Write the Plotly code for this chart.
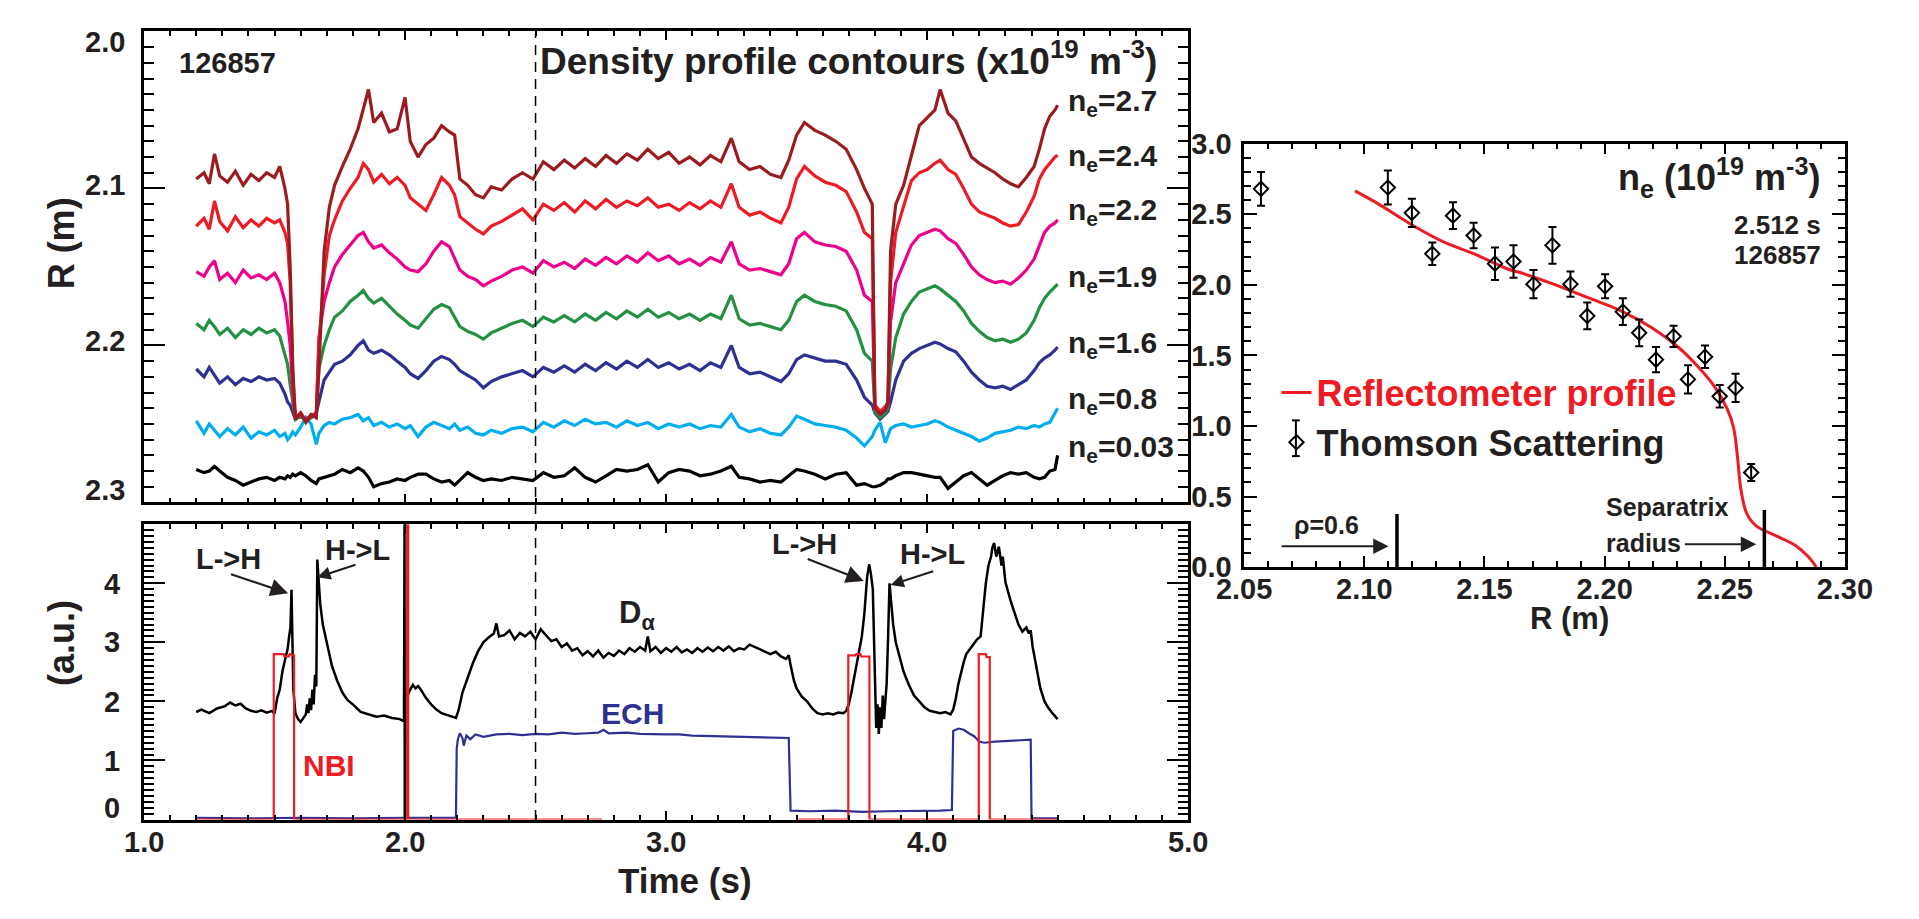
import plotly.graph_objects as go

# ---------------- data: density contour radii vs time (top panel) ----------------
T_TOP = [1.20, 1.23, 1.25, 1.27, 1.29, 1.32, 1.35, 1.38, 1.41, 1.44,
         1.47, 1.50, 1.52, 1.54, 1.55, 1.56, 1.57, 1.58, 1.60, 1.62,
         1.64, 1.66, 1.67, 1.69, 1.71, 1.73, 1.76, 1.79, 1.82, 1.84,
         1.86, 1.88, 1.91, 1.94, 1.97, 2.00, 2.02, 2.05, 2.08, 2.11,
         2.14, 2.17, 2.19, 2.21, 2.24, 2.27, 2.30, 2.33, 2.37, 2.41,
         2.45, 2.49, 2.53, 2.57, 2.61, 2.65, 2.69, 2.73, 2.77, 2.81,
         2.85, 2.89, 2.93, 2.97, 3.01, 3.05, 3.09, 3.13, 3.17, 3.21,
         3.25, 3.28, 3.32, 3.36, 3.40, 3.44, 3.47, 3.50, 3.53, 3.57,
         3.61, 3.65, 3.69, 3.73, 3.76, 3.79, 3.80, 3.82, 3.84, 3.85,
         3.86, 3.88, 3.91, 3.94, 3.97, 4.00, 4.03, 4.05, 4.08, 4.11,
         4.14, 4.17, 4.20, 4.23, 4.26, 4.29, 4.32, 4.35, 4.38, 4.41,
         4.43, 4.45, 4.47, 4.49, 4.50]

R_NE27 = [2.094, 2.090, 2.097, 2.078, 2.092, 2.096, 2.089, 2.098, 2.091, 2.095,
          2.090, 2.093, 2.086, 2.100, 2.110, 2.150, 2.215, 2.247, 2.243, 2.249,
          2.244, 2.246, 2.215, 2.140, 2.112, 2.098, 2.086, 2.075, 2.062, 2.050,
          2.037, 2.058, 2.052, 2.064, 2.062, 2.042, 2.070, 2.080, 2.072, 2.068,
          2.060, 2.064, 2.066, 2.094, 2.098, 2.104, 2.106, 2.099, 2.101, 2.094,
          2.090, 2.094, 2.083, 2.088, 2.082, 2.087, 2.081, 2.086, 2.079, 2.084,
          2.078, 2.082, 2.075, 2.081, 2.077, 2.084, 2.080, 2.085, 2.079, 2.083,
          2.068, 2.083, 2.088, 2.086, 2.091, 2.093, 2.082, 2.066, 2.058, 2.063,
          2.066, 2.070, 2.075, 2.088, 2.100, 2.110, 2.240, 2.244, 2.241, 2.236,
          2.140, 2.110, 2.098, 2.079, 2.060, 2.055, 2.050, 2.037, 2.052, 2.057,
          2.068, 2.080, 2.084, 2.087, 2.090, 2.094, 2.097, 2.099, 2.093, 2.086,
          2.075, 2.062, 2.054, 2.050, 2.047]

R_NE24 = [2.124, 2.119, 2.126, 2.108, 2.121, 2.127, 2.118, 2.125, 2.120, 2.124,
          2.119, 2.122, 2.120, 2.128, 2.135, 2.160, 2.220, 2.246, 2.243, 2.248,
          2.245, 2.244, 2.200, 2.155, 2.130, 2.120, 2.108, 2.100, 2.093, 2.084,
          2.088, 2.096, 2.091, 2.097, 2.093, 2.098, 2.106, 2.110, 2.114, 2.104,
          2.093, 2.098, 2.104, 2.118, 2.122, 2.126, 2.129, 2.124, 2.121, 2.117,
          2.113, 2.120, 2.110, 2.114, 2.109, 2.115, 2.108, 2.113, 2.107, 2.112,
          2.108, 2.111, 2.106, 2.112, 2.110, 2.114, 2.109, 2.113, 2.108, 2.112,
          2.097, 2.112, 2.117, 2.115, 2.119, 2.122, 2.112, 2.094, 2.086, 2.092,
          2.096, 2.098, 2.102, 2.115, 2.128, 2.132, 2.238, 2.242, 2.239, 2.236,
          2.160, 2.128, 2.112, 2.095, 2.090, 2.088, 2.084, 2.082, 2.088, 2.091,
          2.100, 2.110, 2.115, 2.117, 2.119, 2.122, 2.124, 2.123, 2.115, 2.105,
          2.094, 2.088, 2.084, 2.080, 2.079]

R_NE22 = [2.153, 2.156, 2.150, 2.146, 2.158, 2.154, 2.160, 2.152, 2.157, 2.155,
          2.158, 2.154, 2.160, 2.172, 2.185, 2.200, 2.230, 2.246, 2.244, 2.247,
          2.245, 2.243, 2.195, 2.172, 2.160, 2.150, 2.142, 2.136, 2.130, 2.128,
          2.134, 2.138, 2.136, 2.141, 2.145, 2.150, 2.152, 2.153, 2.148, 2.140,
          2.134, 2.137, 2.145, 2.152, 2.156, 2.158, 2.162, 2.159, 2.156, 2.152,
          2.150, 2.154, 2.146, 2.150, 2.147, 2.151, 2.145, 2.149, 2.144, 2.148,
          2.143, 2.147, 2.141, 2.146, 2.143, 2.148, 2.145, 2.149, 2.144, 2.147,
          2.134, 2.148, 2.152, 2.151, 2.153, 2.155, 2.148, 2.132, 2.128, 2.134,
          2.136, 2.137, 2.140, 2.152, 2.168, 2.172, 2.240, 2.244, 2.241, 2.238,
          2.185, 2.160, 2.148, 2.136, 2.130, 2.128, 2.126, 2.127, 2.132, 2.135,
          2.142, 2.150, 2.155, 2.158, 2.160, 2.159, 2.161, 2.157, 2.152, 2.145,
          2.136, 2.128, 2.124, 2.122, 2.120]

R_NE19 = [2.186, 2.190, 2.184, 2.188, 2.193, 2.189, 2.195, 2.190, 2.193, 2.189,
          2.192, 2.190, 2.194, 2.205, 2.212, 2.225, 2.238, 2.247, 2.245, 2.248,
          2.246, 2.244, 2.215, 2.200, 2.190, 2.182, 2.178, 2.172, 2.168, 2.165,
          2.170, 2.173, 2.170, 2.175, 2.180, 2.184, 2.187, 2.189, 2.183, 2.177,
          2.174, 2.176, 2.182, 2.188, 2.191, 2.193, 2.196, 2.192, 2.189, 2.186,
          2.184, 2.188, 2.182, 2.185, 2.181, 2.185, 2.180, 2.184, 2.179, 2.183,
          2.178, 2.182, 2.177, 2.182, 2.179, 2.183, 2.180, 2.184, 2.180, 2.183,
          2.168, 2.183, 2.187, 2.186, 2.188, 2.190, 2.184, 2.172, 2.168, 2.172,
          2.174, 2.175, 2.178, 2.190, 2.205, 2.210, 2.242, 2.246, 2.243, 2.240,
          2.215, 2.195, 2.180, 2.172, 2.166, 2.164, 2.162, 2.164, 2.168, 2.172,
          2.178, 2.186, 2.191, 2.195, 2.197, 2.196, 2.198, 2.196, 2.192, 2.184,
          2.176, 2.170, 2.166, 2.163, 2.161]

R_NE16 = [2.215, 2.220, 2.214, 2.219, 2.224, 2.220, 2.225, 2.221, 2.223, 2.220,
          2.222, 2.221, 2.224, 2.231, 2.236, 2.238, 2.242, 2.247, 2.244, 2.248,
          2.246, 2.243, 2.236, 2.222, 2.217, 2.212, 2.210, 2.206, 2.200, 2.197,
          2.203, 2.205, 2.203, 2.206, 2.210, 2.214, 2.218, 2.221, 2.216, 2.210,
          2.207, 2.209, 2.212, 2.216, 2.219, 2.222, 2.227, 2.223, 2.220, 2.218,
          2.216, 2.220, 2.214, 2.217, 2.213, 2.217, 2.212, 2.216, 2.211, 2.215,
          2.210, 2.214, 2.209, 2.214, 2.211, 2.215, 2.212, 2.216, 2.211, 2.214,
          2.200, 2.214, 2.218, 2.217, 2.220, 2.223, 2.218, 2.209, 2.206, 2.208,
          2.210, 2.210, 2.212, 2.222, 2.233, 2.238, 2.243, 2.247, 2.244, 2.242,
          2.236, 2.222, 2.210, 2.205, 2.202, 2.200, 2.198, 2.199, 2.202, 2.204,
          2.210, 2.217, 2.222, 2.226, 2.227, 2.226, 2.228, 2.225, 2.222, 2.216,
          2.211, 2.208, 2.206, 2.203, 2.201]

R_NE08 = [2.248, 2.256, 2.250, 2.254, 2.258, 2.253, 2.257, 2.252, 2.259, 2.255,
          2.257, 2.254, 2.258, 2.256, 2.260, 2.258, 2.255, 2.257, 2.252, 2.246,
          2.250, 2.263, 2.256, 2.251, 2.249, 2.250, 2.247, 2.246, 2.244, 2.248,
          2.246, 2.251, 2.249, 2.252, 2.250, 2.253, 2.251, 2.258, 2.252, 2.249,
          2.251, 2.253, 2.250, 2.254, 2.252, 2.256, 2.257, 2.254, 2.256, 2.253,
          2.252, 2.255, 2.249, 2.252, 2.248, 2.251, 2.247, 2.250, 2.249, 2.252,
          2.248, 2.251, 2.249, 2.253, 2.250, 2.252, 2.250, 2.253, 2.251, 2.252,
          2.244, 2.252, 2.255, 2.253, 2.256, 2.257, 2.252, 2.245, 2.247, 2.250,
          2.251, 2.252, 2.254, 2.259, 2.264, 2.258, 2.254, 2.249, 2.262, 2.257,
          2.253, 2.251, 2.250, 2.252, 2.251, 2.250, 2.248, 2.249, 2.252, 2.254,
          2.256, 2.258, 2.261, 2.259, 2.256, 2.255, 2.254, 2.252, 2.253, 2.251,
          2.252, 2.250, 2.249, 2.243, 2.240]

R_NE003 = [2.279, 2.281, 2.280, 2.277, 2.280, 2.284, 2.286, 2.289, 2.287, 2.285,
           2.284, 2.286, 2.284, 2.285, 2.283, 2.284, 2.282, 2.283, 2.281, 2.283,
           2.286, 2.288, 2.285, 2.284, 2.283, 2.282, 2.279, 2.281, 2.278, 2.280,
           2.284, 2.290, 2.288, 2.287, 2.285, 2.286, 2.284, 2.282, 2.282, 2.285,
           2.287, 2.286, 2.289, 2.286, 2.281, 2.284, 2.286, 2.285, 2.286, 2.284,
           2.285, 2.286, 2.281, 2.284, 2.283, 2.278, 2.284, 2.287, 2.283, 2.279,
           2.280, 2.279, 2.276, 2.287, 2.281, 2.279, 2.280, 2.283, 2.282, 2.280,
           2.277, 2.284, 2.285, 2.287, 2.286, 2.287, 2.283, 2.279, 2.280, 2.282,
           2.285, 2.282, 2.281, 2.289, 2.288, 2.290, 2.290, 2.289, 2.287, 2.285,
           2.285, 2.283, 2.281, 2.281, 2.282, 2.283, 2.284, 2.284, 2.291, 2.287,
           2.283, 2.281, 2.285, 2.289, 2.286, 2.283, 2.281, 2.282, 2.281, 2.284,
           2.285, 2.284, 2.280, 2.279, 2.270]

CONTOUR_LABELS = ["2.7", "2.4", "2.2", "1.9", "1.6", "0.8", "0.03"]
CONTOUR_LABEL_R = [2.0455, 2.0803, 2.1150, 2.1572, 2.1992, 2.2348, 2.2656]

R_TICKS = [2.0, 2.1, 2.2, 2.3]
R_TICK_TEXT = ["2.0", "2.1", "2.2", "2.3"]
AU_TICKS = [0, 1, 2, 3, 4]
TIME_TICKS = [1, 2, 3, 4, 5]
TIME_TICK_TEXT = ["1.0", "2.0", "3.0", "4.0", "5.0"]

# ---------------- data: time traces (bottom panel) ----------------
DALPHA = [(1.20, 1.82), (1.22, 1.86), (1.25, 1.80), (1.28, 1.88), (1.31, 1.92), (1.33, 1.98),
          (1.35, 1.93), (1.37, 1.96), (1.39, 1.88), (1.41, 1.84), (1.43, 1.82), (1.45, 1.85),
          (1.47, 1.81), (1.49, 1.84), (1.50, 1.79), (1.51, 2.05), (1.52, 2.20), (1.53, 2.50),
          (1.54, 2.70), (1.55, 2.88), (1.556, 3.10), (1.561, 3.25), (1.565, 3.89), (1.568, 3.00),
          (1.572, 2.20), (1.58, 1.80), (1.59, 1.70), (1.60, 1.65), (1.61, 1.72), (1.62, 1.78),
          (1.625, 1.95), (1.63, 1.80), (1.635, 2.05), (1.64, 1.85), (1.645, 2.20), (1.65, 1.95),
          (1.655, 2.45), (1.66, 2.25), (1.664, 4.40), (1.668, 4.10), (1.675, 3.65), (1.685, 3.30),
          (1.70, 3.00), (1.72, 2.60), (1.74, 2.35), (1.76, 2.15), (1.78, 2.02), (1.80, 1.95),
          (1.83, 1.82), (1.86, 1.78), (1.89, 1.74), (1.92, 1.76), (1.95, 1.72), (1.98, 1.70),
          (1.996, 1.66), (1.998, 5.0), (1.999, 0.0), (2.006, 2.10), (2.012, 2.12), (2.02, 2.20),
          (2.03, 2.28), (2.04, 2.22), (2.05, 2.26), (2.06, 2.20), (2.08, 2.06), (2.10, 1.95),
          (2.12, 1.86), (2.14, 1.80), (2.16, 1.77), (2.18, 1.74), (2.195, 1.72), (2.205, 1.85),
          (2.22, 2.15), (2.24, 2.40), (2.26, 2.65), (2.28, 2.85), (2.30, 3.00), (2.32, 3.08),
          (2.34, 3.15), (2.35, 3.32), (2.36, 3.10), (2.38, 3.12), (2.40, 3.20), (2.42, 3.05),
          (2.44, 3.16), (2.46, 3.10), (2.48, 3.18), (2.50, 3.05), (2.52, 3.22), (2.54, 3.12),
          (2.56, 3.02), (2.58, 3.05), (2.60, 2.92), (2.62, 2.98), (2.64, 2.86), (2.66, 2.90),
          (2.68, 2.78), (2.70, 2.85), (2.72, 2.76), (2.74, 2.86), (2.76, 2.74), (2.78, 2.82),
          (2.80, 2.77), (2.82, 2.86), (2.84, 2.80), (2.86, 2.90), (2.88, 2.84), (2.90, 2.92),
          (2.92, 2.86), (2.93, 3.10), (2.94, 2.85), (2.96, 2.92), (2.98, 2.82), (3.00, 2.90),
          (3.02, 2.84), (3.04, 2.92), (3.06, 2.83), (3.08, 2.88), (3.10, 2.82), (3.12, 2.90),
          (3.14, 2.84), (3.16, 2.91), (3.18, 2.85), (3.20, 2.92), (3.22, 2.86), (3.24, 2.93),
          (3.26, 2.85), (3.28, 2.90), (3.30, 2.88), (3.32, 2.96), (3.34, 2.92), (3.36, 2.87),
          (3.38, 2.84), (3.40, 2.80), (3.42, 2.84), (3.44, 2.76), (3.46, 2.72), (3.47, 2.78),
          (3.48, 2.55), (3.49, 2.35), (3.50, 2.22), (3.52, 2.08), (3.54, 2.00), (3.56, 1.88),
          (3.58, 1.80), (3.60, 1.78), (3.62, 1.80), (3.64, 1.78), (3.66, 1.81), (3.68, 1.80),
          (3.69, 1.84), (3.70, 1.95), (3.71, 2.15), (3.72, 2.40), (3.73, 2.60), (3.74, 2.85),
          (3.75, 3.10), (3.76, 3.50), (3.77, 4.10), (3.778, 4.32), (3.785, 4.15), (3.792, 3.90),
          (3.80, 2.60), (3.805, 1.55), (3.81, 1.95), (3.815, 1.45), (3.82, 1.90), (3.825, 1.55),
          (3.83, 2.10), (3.835, 1.70), (3.84, 2.00), (3.845, 2.30), (3.85, 3.00), (3.856, 4.00),
          (3.862, 3.70), (3.87, 3.30), (3.88, 3.00), (3.89, 2.82), (3.91, 2.50), (3.93, 2.28),
          (3.95, 2.10), (3.97, 2.00), (3.99, 1.90), (4.01, 1.84), (4.03, 1.82), (4.05, 1.80),
          (4.07, 1.82), (4.09, 1.78), (4.10, 1.86), (4.11, 2.05), (4.12, 2.30), (4.13, 2.50),
          (4.14, 2.66), (4.15, 2.80), (4.17, 2.93), (4.19, 3.04), (4.205, 3.10), (4.215, 3.60),
          (4.225, 4.00), (4.235, 4.30), (4.245, 4.45), (4.25, 4.60), (4.257, 4.68), (4.265, 4.45),
          (4.275, 4.62), (4.285, 4.30), (4.29, 4.45), (4.30, 4.02), (4.31, 3.85), (4.32, 3.70),
          (4.335, 3.50), (4.35, 3.30), (4.365, 3.18), (4.38, 3.25), (4.39, 3.15), (4.397, 3.20),
          (4.404, 2.93), (4.42, 2.55), (4.434, 2.22), (4.45, 2.00), (4.463, 1.90), (4.48, 1.80),
          (4.493, 1.73), (4.50, 1.70)]

NBI = [(1.20, 0), (1.497, 0), (1.497, 2.80), (1.535, 2.80), (1.538, 2.76), (1.555, 2.76),
       (1.558, 2.80), (1.575, 2.78), (1.575, 0), (2.008, 0), (2.008, 5.0), (2.012, 5.0),
       (2.012, 0), (2.755, 0), (None, None), (3.507, 0), (3.698, 0), (3.698, 2.78),
       (3.725, 2.78), (3.728, 2.80), (3.745, 2.80), (3.748, 2.76), (3.779, 2.76), (3.779, 0),
       (4.198, 0), (4.198, 2.80), (4.225, 2.80), (4.228, 2.75), (4.24, 2.75), (4.24, 0),
       (4.50, 0)]

ECH = [(1.20, 0.03), (1.40, 0.02), (1.60, 0.03), (1.80, 0.02), (2.00, 0.03), (2.195, 0.03),
       (2.198, 1.20), (2.202, 1.35), (2.21, 1.46), (2.22, 1.38), (2.225, 1.25), (2.235, 1.42),
       (2.25, 1.36), (2.27, 1.44), (2.30, 1.40), (2.35, 1.44), (2.40, 1.45), (2.45, 1.43),
       (2.50, 1.45), (2.55, 1.44), (2.60, 1.47), (2.65, 1.45), (2.70, 1.46), (2.74, 1.47),
       (2.76, 1.52), (2.78, 1.46), (2.85, 1.47), (2.90, 1.45), (3.00, 1.44), (3.05, 1.44),
       (3.10, 1.42), (3.20, 1.41), (3.30, 1.40), (3.40, 1.39), (3.47, 1.38), (3.477, 0.15),
       (3.55, 0.14), (3.65, 0.15), (3.75, 0.13), (3.85, 0.14), (3.95, 0.14), (4.05, 0.15),
       (4.095, 0.16), (4.10, 1.50), (4.12, 1.54), (4.14, 1.52), (4.16, 1.46), (4.18, 1.41),
       (4.20, 1.32), (4.22, 1.30), (4.26, 1.32), (4.30, 1.33), (4.35, 1.34), (4.397, 1.35),
       (4.40, 0.02), (4.50, 0.02)]

T_SNAPSHOT = 2.5

# ---------------- data: density profile (right panel) ----------------
TS_R = [2.057, 2.1098, 2.1198, 2.1283, 2.1369, 2.1455, 2.1544, 2.1621, 2.1704, 2.1783, 2.1858,
        2.1928, 2.2002, 2.2076, 2.2144, 2.2214, 2.2287, 2.2347, 2.2418, 2.2479, 2.2545, 2.2610]
TS_NE = [2.68, 2.69, 2.51, 2.22, 2.49, 2.35, 2.15, 2.165, 2.005, 2.28, 2.005,
         1.78, 1.99, 1.81, 1.66, 1.47, 1.635, 1.33, 1.49, 1.21, 1.27, 0.67]
TS_ERR = [0.12, 0.12, 0.10, 0.08, 0.095, 0.09, 0.115, 0.115, 0.10, 0.13, 0.09,
          0.095, 0.085, 0.095, 0.095, 0.09, 0.075, 0.10, 0.08, 0.08, 0.10, 0.06]

REF_R = [2.0961, 2.1055, 2.1190, 2.1325, 2.1460, 2.1594, 2.1661, 2.1796, 2.1931, 2.2066, 2.2200,
         2.2308, 2.2389, 2.2456, 2.2510, 2.2537, 2.2553, 2.2567, 2.2591, 2.2631, 2.2712, 2.2793,
         2.2847, 2.2881]
REF_NE = [2.666, 2.577, 2.433, 2.308, 2.217, 2.114, 2.080, 2.000, 1.909, 1.818, 1.693,
          1.556, 1.420, 1.283, 1.123, 0.986, 0.781, 0.554, 0.383, 0.292, 0.223, 0.155,
          0.075, 0.0]

RHO06_R, RHO06_TOP = 2.1136, 0.376
SEP_R, SEP_TOP = 2.2665, 0.405

# ---------------- styling ----------------
W, H = 1919, 919
FONT = "Liberation Sans, Arial, Helvetica, sans-serif"
TXT = "#231f20"
C_DRED, C_RED, C_MAG, C_GRN, C_BLU, C_CYN = "#9b1c20", "#ed1c24", "#ec008c", "#239043", "#2e3192", "#00aeef"


def fx(x):
    return x / W


def fy(y):
    return 1 - y / H


fig = go.Figure()

contours = [(R_NE003, "black"), (R_NE08, C_CYN), (R_NE16, C_BLU), (R_NE19, C_GRN),
            (R_NE22, C_MAG), (R_NE24, C_RED), (R_NE27, C_DRED)]
for vals, col in contours:
    fig.add_trace(go.Scatter(x=T_TOP, y=vals, mode="lines", line=dict(color=col, width=3.2),
                             xaxis="x", yaxis="y", showlegend=False, hoverinfo="skip"))

fig.add_trace(go.Scatter(x=[p[0] for p in ECH], y=[p[1] for p in ECH], mode="lines",
                         line=dict(color=C_BLU, width=2.2), xaxis="x2", yaxis="y2",
                         showlegend=False, hoverinfo="skip"))
fig.add_trace(go.Scatter(x=[p[0] for p in DALPHA], y=[p[1] for p in DALPHA], mode="lines",
                         line=dict(color="black", width=2.5), xaxis="x2", yaxis="y2",
                         showlegend=False, hoverinfo="skip"))
fig.add_trace(go.Scatter(x=[p[0] for p in NBI], y=[p[1] for p in NBI], mode="lines",
                         line=dict(color=C_RED, width=2.2), connectgaps=False,
                         xaxis="x2", yaxis="y2", showlegend=False, hoverinfo="skip"))

fig.add_trace(go.Scatter(x=REF_R, y=REF_NE, mode="lines", line=dict(color=C_RED, width=3, shape="spline"),
                         xaxis="x3", yaxis="y3",
                         name='<span style="color:#ed1c24">Reflectometer profile</span>'))
fig.add_trace(go.Scatter(x=TS_R, y=TS_NE, mode="markers",
                         marker=dict(symbol="diamond-open", size=11, color="black", line=dict(width=2)),
                         error_y=dict(type="data", array=TS_ERR, color="black", thickness=2, width=4),
                         xaxis="x3", yaxis="y3", name="Thomson Scattering"))

ax_common = dict(showline=True, linecolor="black", linewidth=2.5, mirror="ticks", ticks="inside",
                 tickcolor="black", tickwidth=2, showgrid=False, zeroline=False)
minor_common = dict(ticks="inside", tickcolor="black", tickwidth=1.6, showgrid=False)
tick_font = dict(family=FONT, size=29, color=TXT, weight="bold")

fig.update_layout(
    width=W, height=H, margin=dict(l=0, r=0, t=0, b=0),
    paper_bgcolor="white", plot_bgcolor="rgba(0,0,0,0)",
    xaxis=dict(ax_common, domain=[fx(119.5), fx(1195)], range=[1, 5], anchor="y",
               tickvals=TIME_TICKS, ticklen=9, showticklabels=False,
               minor=dict(minor_common, dtick=0.1, tick0=1, ticklen=5)),
    yaxis=dict(ax_common, domain=[fy(504), fy(16)], range=[2.3, 2.0], anchor="x",
               tickvals=R_TICKS, ticklen=21, showticklabels=False,
               minor=dict(minor_common, dtick=0.01, tick0=2.0, ticklen=10)),
    xaxis2=dict(ax_common, domain=[fx(119.5), fx(1195)], range=[1, 5], anchor="y2",
                tickvals=TIME_TICKS, ticklen=9, showticklabels=False,
                minor=dict(minor_common, dtick=0.1, tick0=1, ticklen=5)),
    yaxis2=dict(ax_common, domain=[fy(832.5), fy(526.5)], range=[0, 5], anchor="x2",
                tickvals=AU_TICKS, ticklen=21, showticklabels=False,
                minor=dict(minor_common, dtick=0.1, tick0=0, ticklen=10)),
    xaxis3=dict(ax_common, domain=[fx(1252.7), fx(1871.5)], range=[2.05, 2.30], anchor="y3",
                tickvals=[2.05, 2.10, 2.15, 2.20, 2.25, 2.30],
                ticktext=["2.05", "2.10", "2.15", "2.20", "2.25", "2.30"], ticklen=11,
                tickfont=tick_font, ticklabelstandoff=-6,
                minor=dict(minor_common, dtick=0.01, tick0=2.05, ticklen=6)),
    yaxis3=dict(ax_common, domain=[fy(571), fy(132.3)], range=[0, 3], anchor="x3",
                tickvals=[0, 0.5, 1.0, 1.5, 2.0, 2.5, 3.0],
                ticktext=["0.0", "0.5", "1.0", "1.5", "2.0", "2.5", "3.0"], ticklen=13,
                tickfont=tick_font, ticklabelstandoff=4,
                minor=dict(minor_common, dtick=0.1, tick0=0, ticklen=7)),
    showlegend=True,
    legend=dict(x=fx(1286), y=fy(416), xanchor="left", yanchor="middle",
                font=dict(family=FONT, size=36, color=TXT, weight="bold"),
                bgcolor="rgba(0,0,0,0)", itemwidth=30, tracegroupgap=0),
)

ann = []


def text(t, x, y, xref, yref, size, color=TXT, xanchor="center", yanchor="middle", angle=0):
    ann.append(dict(text=t, x=x, y=y, xref=xref, yref=yref, showarrow=False, xanchor=xanchor,
                    yanchor=yanchor, textangle=angle, align="left",
                    font=dict(family=FONT, size=size, color=color, weight="bold")))


def arrow(x0, y0, x1, y1, xref, yref, size=1.3):
    ann.append(dict(text="", x=x1, y=y1, ax=x0, ay=y0, xref=xref, yref=yref, axref=xref, ayref=yref,
                    showarrow=True, arrowhead=2, arrowsize=size, arrowwidth=2.2, arrowcolor=TXT,
                    standoff=0, startstandoff=0))


# left-panel tick labels (the end labels sit inside the frame, as in the original)
R_LABEL_Y = [27, 175, 337, 491]
for lab, yy in zip(R_TICK_TEXT, R_LABEL_Y):
    text(lab, fx(101.7), fy(yy), "paper", "paper", 29, xanchor="right")
AU_LABEL_Y = [821, 771.7, 710.7, 649, 588]
for v, yy in zip(AU_TICKS, AU_LABEL_Y):
    text(str(v), fx(96.7), fy(yy), "paper", "paper", 29, xanchor="right")
for tv, lab in zip(TIME_TICKS, TIME_TICK_TEXT):
    text(lab, tv, fy(856), "x2", "paper", 29)

# top panel texts
text("126857", 1.128, 2.0203, "x", "y", 29, xanchor="left")
text("Density profile contours (x10<sup>19</sup> m<sup>-3</sup>)", 2.508, 2.0175, "x", "y", 37,
     xanchor="left")
for lab, r in zip(CONTOUR_LABELS, CONTOUR_LABEL_R):
    text("n<sub>e</sub>=" + lab, 4.534, r, "x", "y", 30, xanchor="left")

# bottom panel texts
text("L-&gt;H", 1.3235, 4.41, "x2", "y2", 29)
arrow(1.3277, 4.16, 1.552, 3.83, "x2", "y2", 1.6)
text("H-&gt;L", 1.816, 4.57, "x2", "y2", 29)
arrow(1.816, 4.32, 1.664, 4.10, "x2", "y2", 1.2)
text("L-&gt;H", 3.529, 4.67, "x2", "y2", 29)
arrow(3.537, 4.42, 3.757, 4.04, "x2", "y2", 1.6)
text("H-&gt;L", 4.021, 4.50, "x2", "y2", 29)
arrow(4.029, 4.21, 3.86, 3.97, "x2", "y2", 1.2)
text("NBI", 1.710, 0.91, "x2", "y2", 30, color=C_RED)
text("ECH", 2.872, 1.79, "x2", "y2", 30, color=C_BLU)
text("D<sub>α</sub>", 2.887, 3.47, "x2", "y2", 31)

# axis titles
text("R (m)", fx(34.6), fy(236), "paper", "paper", 36, angle=-90)
text("(a.u.)", fx(34.6), fy(650), "paper", "paper", 36, angle=-90)
text("Time (s)", fx(676.5), fy(896), "paper", "paper", 35)
text("R (m)", fx(1587.5), fy(624), "paper", "paper", 31)

# right panel texts
text("n<sub>e</sub> (10<sup>19</sup> m<sup>-3</sup>)", 2.2907, 2.761, "x3", "y3", 36, xanchor="right")
text("2.512 s", 2.2907, 2.426, "x3", "y3", 26, xanchor="right")
text("126857", 2.2907, 2.211, "x3", "y3", 26, xanchor="right")
text("ρ=0.6", 2.0698, 0.297, "x3", "y3", 25, xanchor="left")
arrow(2.065, 0.148, 2.1101, 0.148, "x3", "y3", 1.4)
text("Separatrix", 2.1997, 0.424, "x3", "y3", 25, xanchor="left")
text("radius", 2.1997, 0.171, "x3", "y3", 25, xanchor="left")
arrow(2.2328, 0.162, 2.2631, 0.162, "x3", "y3", 1.4)

fig.update_layout(annotations=ann)

shapes = [
    dict(type="line", xref="x", yref="paper", x0=T_SNAPSHOT, x1=T_SNAPSHOT, y0=fy(833), y1=fy(18),
         line=dict(color="black", width=1.5, dash="10px,7px")),
    dict(type="line", xref="x3", yref="y3", x0=RHO06_R, x1=RHO06_R, y0=0, y1=RHO06_TOP,
         line=dict(color="black", width=3.5)),
    dict(type="line", xref="x3", yref="y3", x0=SEP_R, x1=SEP_R, y0=0, y1=SEP_TOP,
         line=dict(color="black", width=3.5)),
    # error bar on the legend's Thomson marker
    dict(type="line", xref="paper", yref="paper", x0=fx(1306), x1=fx(1306), y0=fy(419), y1=fy(456),
         line=dict(color="black", width=2)),
    dict(type="line", xref="paper", yref="paper", x0=fx(1302), x1=fx(1310), y0=fy(419), y1=fy(419),
         line=dict(color="black", width=2)),
    dict(type="line", xref="paper", yref="paper", x0=fx(1302), x1=fx(1310), y0=fy(456), y1=fy(456),
         line=dict(color="black", width=2)),
]
fig.update_layout(shapes=shapes)

fig.write_html("out.html", config={"displayModeBar": False})
